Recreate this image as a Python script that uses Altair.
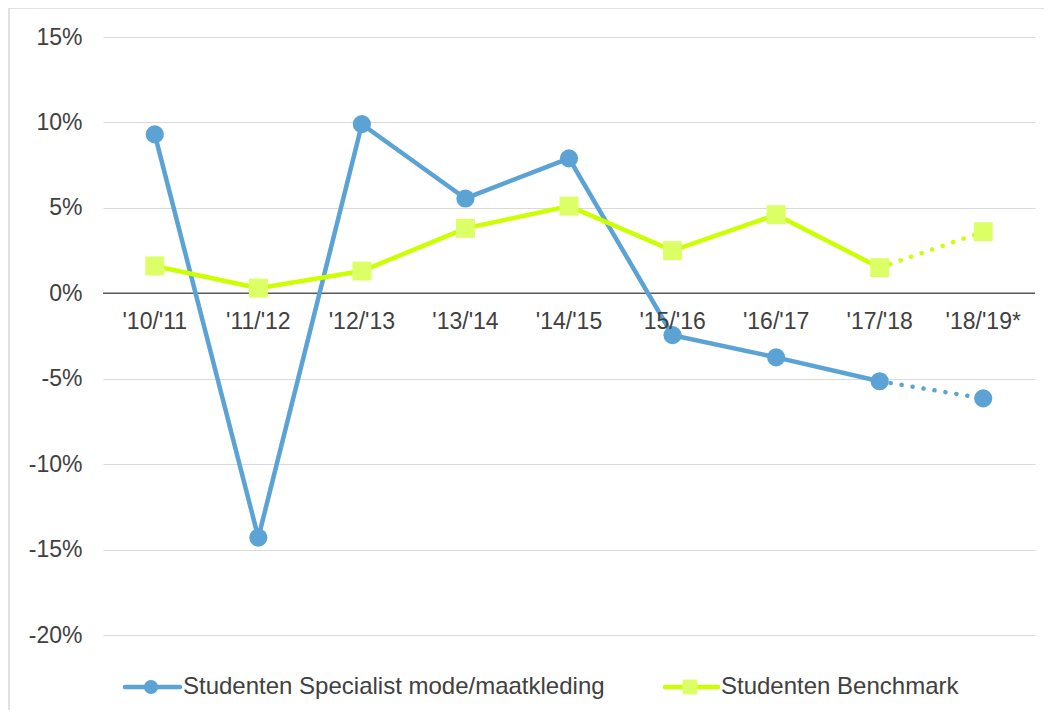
import altair as alt
import pandas as pd

categories = ["'10/'11", "'11/'12", "'12/'13", "'13/'14", "'14/'15", "'15/'16", "'16/'17", "'17/'18", "'18/'19*"]
specialist = [9.3, -14.3, 9.9, 5.55, 7.9, -2.45, -3.75, -5.15, -6.15]
benchmark = [1.6, 0.3, 1.3, 3.8, 5.1, 2.5, 4.6, 1.5, 3.6]
series_names = ["Studenten Specialist mode/maatkleding", "Studenten Benchmark"]
y_ticks = [-20, -15, -10, -5, 0, 5, 10, 15]

BLUE = "#5BA3D5"
GREEN_LINE = "#CCFF00"
GREEN_MARK = "#DDFF66"
FONT = "Liberation Sans"
TXT = "#404040"

rows = []
for i, c in enumerate(categories):
    rows.append({"cat": c, "idx": i, "series": series_names[0], "value": specialist[i]})
    rows.append({"cat": c, "idx": i, "series": series_names[1], "value": benchmark[i]})
df = pd.DataFrame(rows)
n = len(categories)
solid = df[df["idx"] <= n - 2]
proj = df[df["idx"] >= n - 2]

xs = alt.X("cat:N", sort=categories, axis=None,
           scale=alt.Scale(type="point", padding=0.5, domain=categories))
ys = alt.Y("value:Q", scale=alt.Scale(domain=[-20, 15], nice=False, zero=False),
           axis=alt.Axis(values=y_ticks, labelExpr="datum.value + '%'", title=None,
                         domain=False, ticks=False, grid=True, gridColor="#D9D9D9",
                         gridWidth=1, labelFont=FONT, labelFontSize=23,
                         labelColor=TXT, labelPadding=21))

frame = alt.Chart(pd.DataFrame({"a": [0]})).mark_rect(
    fill=None, stroke="#D9D9D9", strokeWidth=1.5
).encode(x=alt.value(-94), x2=alt.value(947), y=alt.value(-29), y2=alt.value(690))

grid = alt.Chart(df).mark_point(opacity=0).encode(x=xs, y=ys)

zero = alt.Chart(pd.DataFrame({"v": [0]})).mark_rule(color="#595959", strokeWidth=1.6).encode(
    y=alt.Y("v:Q"))

def series_layers(name, line_color, mark_color, shape, size):
    s = solid[solid["series"] == name]
    p = proj[proj["series"] == name]
    l1 = alt.Chart(s).mark_line(color=line_color, strokeWidth=4.5).encode(
        x=alt.X("cat:N", sort=categories), y="value:Q", order="idx:Q")
    l2 = alt.Chart(p).mark_line(color=line_color, strokeWidth=4.5, strokeDash=[0.1, 11],
                                strokeCap="round").encode(
        x=alt.X("cat:N", sort=categories), y="value:Q", order="idx:Q")
    pts = alt.Chart(df[df["series"] == name]).mark_point(
        shape=shape, filled=True, color=mark_color, size=size, opacity=1).encode(
        x=alt.X("cat:N", sort=categories), y="value:Q")
    return [l1, l2, pts]

blue_layers = series_layers(series_names[0], BLUE, BLUE, "circle", 330)
green_layers = series_layers(series_names[1], GREEN_LINE, GREEN_MARK, "square", 360)

xlabels = alt.Chart(pd.DataFrame({"cat": categories})).mark_text(
    font=FONT, fontSize=23, color=TXT, dy=29, baseline="middle").encode(
    x=alt.X("cat:N", sort=categories), y=alt.datum(0), text="cat:N")

# custom legend
LY = 650
leg_b_line = alt.Chart(pd.DataFrame({"a": [0]})).mark_rule(color=BLUE, strokeWidth=4.5, strokeCap="round").encode(
    x=alt.value(22), x2=alt.value(77), y=alt.value(LY))
leg_b_pt = alt.Chart(pd.DataFrame({"a": [0]})).mark_point(shape="circle", filled=True, color=BLUE, size=200, opacity=1).encode(
    x=alt.value(48), y=alt.value(LY))
leg_b_txt = alt.Chart(pd.DataFrame({"t": [series_names[0]]})).mark_text(
    font=FONT, fontSize=24, color=TXT, align="left", baseline="middle").encode(
    x=alt.value(80), y=alt.value(LY), text="t:N")
leg_g_line = alt.Chart(pd.DataFrame({"a": [0]})).mark_rule(color=GREEN_LINE, strokeWidth=4.5, strokeCap="round").encode(
    x=alt.value(562), x2=alt.value(615), y=alt.value(LY))
leg_g_pt = alt.Chart(pd.DataFrame({"a": [0]})).mark_point(shape="square", filled=True, color=GREEN_MARK, size=220, opacity=1).encode(
    x=alt.value(587), y=alt.value(LY))
leg_g_txt = alt.Chart(pd.DataFrame({"t": [series_names[1]]})).mark_text(
    font=FONT, fontSize=24, color=TXT, align="left", baseline="middle").encode(
    x=alt.value(618), y=alt.value(LY), text="t:N")

chart = alt.layer(
    frame, grid, zero, *blue_layers, *green_layers, xlabels,
    leg_b_line, leg_b_pt, leg_b_txt, leg_g_line, leg_g_pt, leg_g_txt
).properties(
    width=932, height=598,
    background="white",
    autosize=alt.AutoSizeParams(type="none"),
    padding={"left": 95, "top": 29, "right": 9, "bottom": 75},
).configure_view(stroke=None)

chart.save("out.html", embed_options={"renderer": "svg", "actions": False})
